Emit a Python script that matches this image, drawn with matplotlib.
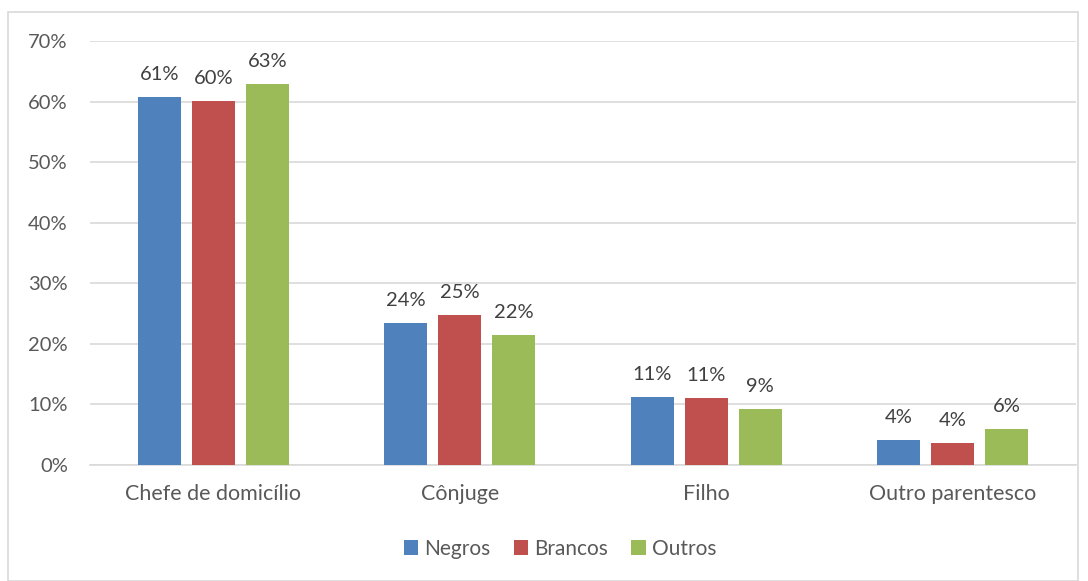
import matplotlib.pyplot as plt
import numpy as np
from matplotlib.patches import Rectangle

categories = ["Chefe de domicílio", "Cônjuge", "Filho", "Outro parentesco"]
series = ["Negros", "Brancos", "Outros"]
negros = [60.7, 23.4, 11.3, 4.1]
brancos = [60.1, 24.8, 11.1, 3.6]
outros = [62.9, 21.5, 9.2, 5.9]
labels = [["61%", "24%", "11%", "4%"],
          ["60%", "25%", "11%", "4%"],
          ["63%", "22%", "9%", "6%"]]
colors = ["#4f81bd", "#c0504d", "#9bbb59"]

plt.rcParams['font.family'] = ['Lato', 'DejaVu Sans']
text_color = "#595959"

fig = plt.figure(figsize=(10.88, 5.81), dpi=100)
fig.patches.append(Rectangle((8/1088, 0), 1070/1088, 569/581, transform=fig.transFigure,
                             fill=False, edgecolor="#d9d9d9", linewidth=1.2))
ax = fig.add_axes([90/1088, 116/581, 986/1088, 424/581])

x = np.arange(len(categories))
w = 0.175
off = 0.219
for i, (vals, name) in enumerate(zip([negros, brancos, outros], series)):
    pos = x + (i - 1) * off
    ax.bar(pos, vals, width=w, color=colors[i], label=name, zorder=3)
    for p, v, t in zip(pos, vals, labels[i]):
        ax.text(p, v + 2.3, t, ha='center', va='bottom', fontsize=14.5, color="#404040")

ax.set_xlim(-0.5, 3.5)
ax.set_ylim(0, 70)
ax.set_yticks(range(0, 71, 10))
ax.set_yticklabels([f"{v}%" for v in range(0, 71, 10)], fontsize=14.5, color=text_color)
ax.set_xticks(x)
ax.set_xticklabels(categories, fontsize=15.5, color=text_color)
ax.grid(axis='y', color="#d9d9d9", linewidth=1.2, zorder=0)
for s in ['top', 'right', 'left']:
    ax.spines[s].set_visible(False)
ax.spines['bottom'].set_color("#d9d9d9")
ax.spines['bottom'].set_linewidth(1.2)
ax.tick_params(axis='y', length=0, pad=16)
ax.tick_params(axis='x', length=0, pad=14)

leg = fig.legend(loc='center', bbox_to_anchor=(560/1088, 32/581), ncol=3, frameon=False,
                 fontsize=15, handlelength=0.7, handleheight=0.7, handletextpad=0.3,
                 columnspacing=1.1)
for t in leg.get_texts():
    t.set_color(text_color)

fig.savefig("out.png", dpi=100)
